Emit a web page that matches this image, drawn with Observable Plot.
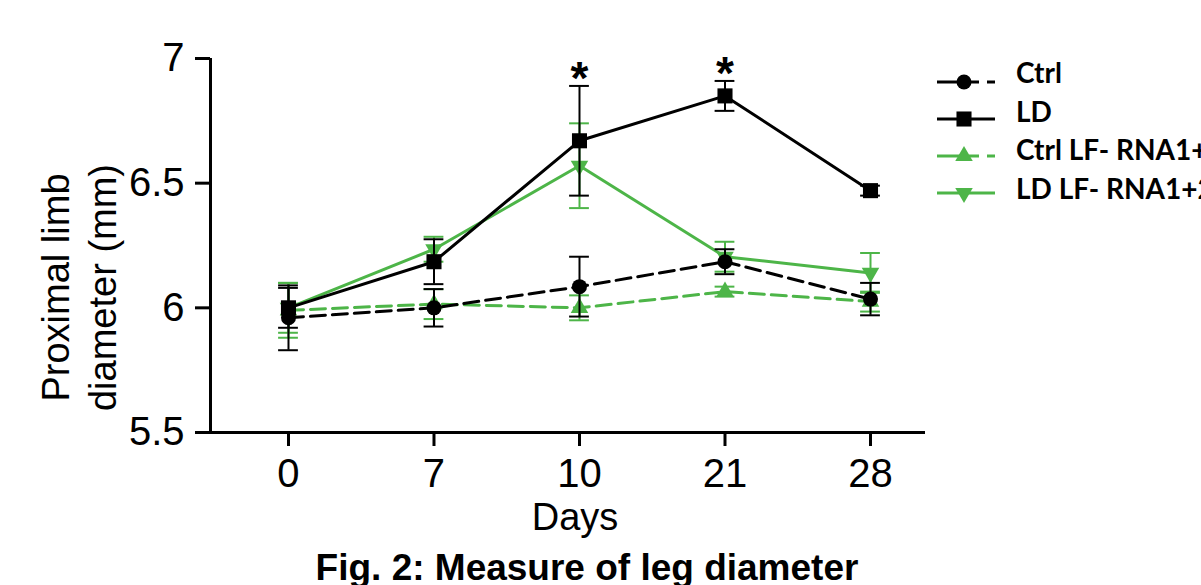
<!DOCTYPE html>
<html>
<head>
<meta charset="utf-8">
<script src="https://cdn.jsdelivr.net/npm/d3@7"></script>
<script src="https://cdn.jsdelivr.net/npm/@observablehq/plot@0.6"></script>
<style>
  body { margin: 0; background: #fff; overflow: hidden; }
  #wrap { position: relative; width: 1201px; height: 585px; }
  #caption { position: absolute; left: 0; width: 1174px; top: 549px; text-align: center;
             font: bold 37px "Liberation Sans", Arial, sans-serif; line-height: 37px; white-space: nowrap; }
  #legend { position: absolute; left: 0; top: 0; overflow: visible; }
</style>
</head>
<body>
<div id="wrap">
  <div id="chart"></div>
  <svg id="legend" width="1201" height="260"></svg>
  <div id="caption"></div>
</div>
<script>
// ---- data ----
const days = ["0", "7", "10", "21", "28"];
const yTickValues = [5.5, 6, 6.5, 7];
const yTickLabels = ["5.5", "6", "6.5", "7"];
const seriesNames = ["Ctrl", "LD", "Ctrl LF- RNA1+2", "LD LF- RNA1+2"];

const ctrlMean   = [5.96, 6.00, 6.085, 6.185, 6.035];
const ctrlErr    = [0.13, 0.075, 0.12, 0.05, 0.065];
const ldMean     = [6.00, 6.185, 6.67, 6.85, 6.47];
const ldErr      = [0.08, 0.09, 0.22, 0.06, 0.02];
const ctrlLfMean = [5.99, 6.015, 6.00, 6.065, 6.025];
const ctrlLfErr  = [0.11, 0.06, 0.05, 0.02, 0.04];
const ldLfMean   = [6.00, 6.235, 6.57, 6.205, 6.14];
const ldLfErr    = [0.10, 0.05, 0.17, 0.06, 0.08];

const starDays = ["10", "21"];   // significance markers on LD
const yLabel = "Proximal limb\ndiameter (mm)";
const xLabel = "Days";
const caption = "Fig. 2: Measure of leg diameter";

// ---- styles ----
const green = "#4db548";
const black = "#000000";
const dash = "15,7";
const cap = 0.068;

const series = [
  {name: seriesNames[2], mean: ctrlLfMean, err: ctrlLfErr, color: green, dash: dash, symbol: "triangle", rotate: 0, r: 6.5},
  {name: seriesNames[3], mean: ldLfMean, err: ldLfErr, color: green, dash: null, symbol: "triangle", rotate: 180, r: 6.5},
  {name: seriesNames[0], mean: ctrlMean, err: ctrlErr, color: black, dash: dash, symbol: "circle", rotate: 0, r: 7.5},
  {name: seriesNames[1], mean: ldMean, err: ldErr, color: black, dash: null, symbol: "square", rotate: 0, r: 8.5}
];

const xDomain = [-0.536, 4.378];
const yDomain = [5.5, 7];

const marks = [];
for (const s of series) {
  const rows = days.map((d, i) => ({i, day: d, mean: s.mean[i], err: s.err[i]}));
  marks.push(
    Plot.ruleX(rows, {x: "i", y1: d => d.mean - d.err, y2: d => d.mean + d.err, stroke: s.color, strokeWidth: 2}),
    Plot.ruleY(rows, {y: d => d.mean + d.err, x1: d => d.i - cap, x2: d => d.i + cap, stroke: s.color, strokeWidth: 2}),
    Plot.ruleY(rows, {y: d => d.mean - d.err, x1: d => d.i - cap, x2: d => d.i + cap, stroke: s.color, strokeWidth: 2}),
    Plot.line(rows, {x: "i", y: "mean", stroke: s.color, strokeWidth: 3, strokeDasharray: s.dash}),
    Plot.dot(rows, {x: "i", y: "mean", symbol: () => s.symbol, r: s.r, fill: s.color, stroke: "none", rotate: s.rotate})
  );
}

const starRows = starDays.map(d => {
  const i = days.indexOf(d);
  return {i, top: ldMean[i] + ldErr[i]};
});

const plot = Plot.plot({
  width: 1201,
  height: 545,
  marginLeft: 210,
  marginRight: 276,
  marginTop: 58,
  marginBottom: 113,
  style: {fontFamily: '"Liberation Sans", Arial, sans-serif', color: "#000", background: "#fff", overflow: "visible"},
  x: {type: "linear", domain: xDomain},
  y: {domain: yDomain},
  symbol: {type: "identity"},
  marks: [
    ...marks,
    Plot.text(starRows, {x: "i", y: "top", text: () => "*", fontSize: 46, fontWeight: "bold", dy: 8, lineAnchor: "bottom"}),
    Plot.ruleX([xDomain[0]], {strokeWidth: 3}),
    Plot.ruleY([yDomain[0]], {strokeWidth: 3}),
    Plot.axisY({ticks: yTickValues, tickFormat: (d) => yTickLabels[yTickValues.indexOf(d)], tickSize: 15, tickPadding: 11, fontSize: 40, strokeWidth: 3, label: null}),
    Plot.axisX({ticks: days.map((d, i) => i), tickFormat: i => days[i], tickSize: 14, tickPadding: 12, fontSize: 40, strokeWidth: 3, label: null}),
    Plot.text([xLabel], {frameAnchor: "bottom", text: d => d, lineAnchor: "middle", textAnchor: "middle", dy: 85, dx: 7, fontSize: 38}),
    Plot.text([yLabel], {frameAnchor: "left", text: d => d, textAnchor: "middle", lineAnchor: "middle", rotate: -90, dx: -133, dy: 42, fontSize: 38, lineHeight: 1.25})
  ]
});
document.getElementById("chart").appendChild(plot);
document.getElementById("caption").textContent = caption;

// ---- legend ----
const legendOrder = [2, 3, 0, 1].map(k => series[k]); // Ctrl, LD, Ctrl LF, LD LF
const lg = d3.select("#legend");
legendOrder.forEach((s, k) => {
  const ly = 82 + 37 * k;
  const ty = 83 + 38.5 * k;
  const g = lg.append("g");
  g.append("line").attr("x1", 937).attr("x2", 995).attr("y1", ly).attr("y2", ly)
    .attr("stroke", s.color).attr("stroke-width", 3).attr("stroke-dasharray", s.dash ? "24,8,10,8,10" : null);
  const sym = s.symbol === "circle" ? d3.symbolCircle : s.symbol === "square" ? d3.symbolSquare : d3.symbolTriangle;
  g.append("path").attr("d", d3.symbol(sym, Math.PI * s.r * s.r)())
    .attr("transform", `translate(964,${ly}) rotate(${s.rotate})`).attr("fill", s.color);
  g.append("text").attr("x", 1016).attr("y", ty).text(s.name)
    .attr("font-family", "Lato, sans-serif").attr("font-weight", "bold").attr("font-size", 28).attr("fill", "#000");
});
</script>
</body>
</html>
